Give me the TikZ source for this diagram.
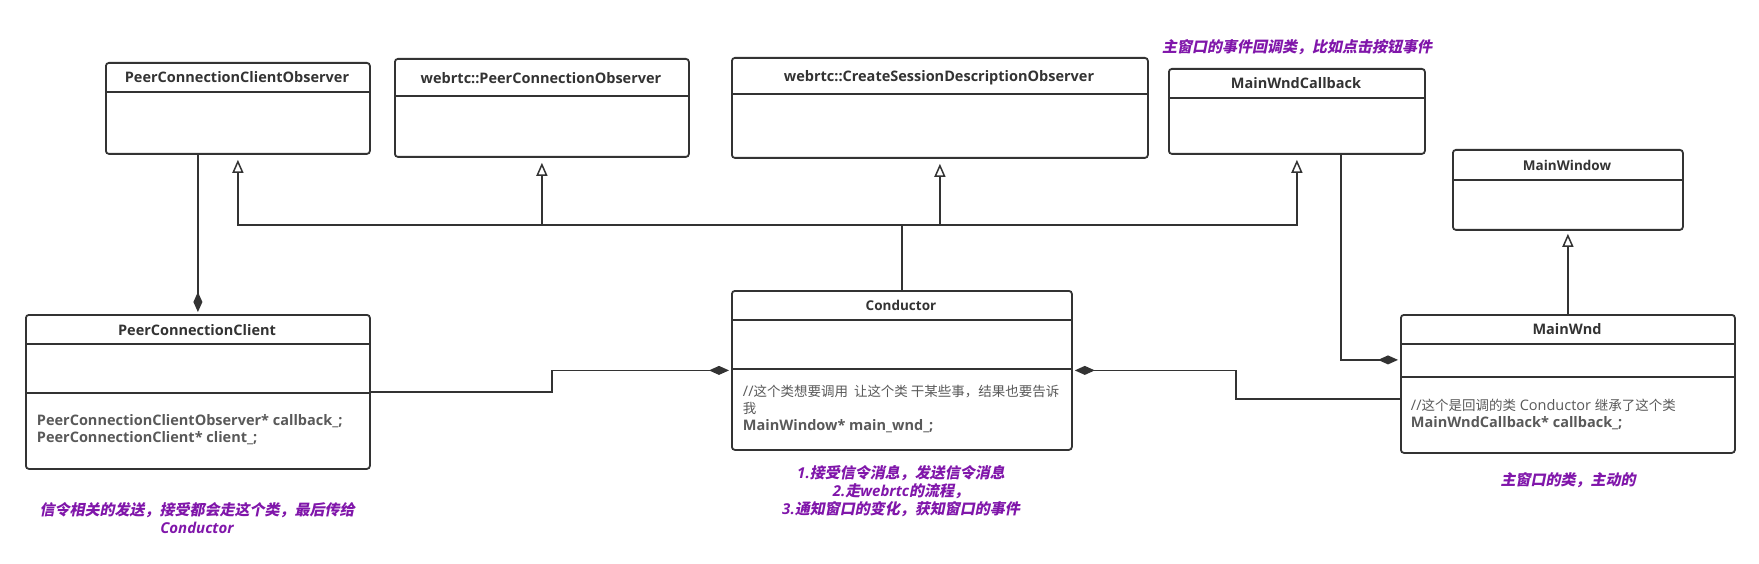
\documentclass[tikz,border=0pt]{standalone}
\usepackage{fontspec}
\setmainfont{Open Sans}
\newfontfamily\cjk{Noto Sans CJK SC}[Scale=0.93]
\newfontfamily\cjknote{Noto Sans CJK SC}[FakeSlant=0.2]
\usetikzlibrary{arrows.meta}
\definecolor{umlline}{RGB}{51,51,51}
\definecolor{umltext}{RGB}{51,51,51}
\definecolor{membertext}{RGB}{89,89,89}
\definecolor{notepurple}{RGB}{128,22,170}

\begin{document}
\begin{tikzpicture}[x=1pt,y=-1pt,
  classbox/.style={draw=umlline, line width=1.8pt, rounded corners=3pt, inner sep=0pt, anchor=north west},
  sepline/.style={draw=umlline, line width=1.8pt},
  classtitle/.style={font=\bfseries\fontsize{14.5}{17}\selectfont, text=umltext, inner sep=0.75pt},
  smalltitle/.style={classtitle, font=\bfseries\fontsize{13.5}{16}\selectfont},
  member/.style={font=\fontsize{14.5}{17}\selectfont, text=membertext, anchor=west, align=left, inner sep=0.75pt},
  note/.style={font=\bfseries\itshape\fontsize{15}{18}\selectfont, text=notepurple, align=center, inner sep=0.75pt},
  inherit/.style={draw=umlline, line width=1.5pt, -{Triangle[open, length=13pt, width=11pt]}, shorten >=5pt},
  compose/.style={draw=umlline, line width=1.5pt, -{Diamond[length=20pt, width=9pt]}, shorten >=2pt}
]
\useasboundingbox (0,0) rectangle (1759,564);

%Shape: Class [id:pcco]
\node[classbox, minimum width=264pt, minimum height=91pt] (pcco) at (105,62) {};
\draw[sepline] (pcco.west |- 0,92) -- (pcco.east |- 0,92);
%Shape: Class [id:pco]
\node[classbox, minimum width=294pt, minimum height=98pt] (pco) at (394,58) {};
\draw[sepline] (pco.west |- 0,96) -- (pco.east |- 0,96);
%Shape: Class [id:csdo]
\node[classbox, minimum width=416pt, minimum height=100pt] (csdo) at (731,57) {};
\draw[sepline] (csdo.west |- 0,94) -- (csdo.east |- 0,94);
%Shape: Class [id:mwcb]
\node[classbox, minimum width=256pt, minimum height=85pt] (mwcb) at (1168,68) {};
\draw[sepline] (mwcb.west |- 0,98) -- (mwcb.east |- 0,98);
%Shape: Class [id:mwin]
\node[classbox, minimum width=230pt, minimum height=80pt] (mwin) at (1452,149) {};
\draw[sepline] (mwin.west |- 0,180) -- (mwin.east |- 0,180);
%Shape: Class [id:pcc]
\node[classbox, minimum width=344pt, minimum height=154pt] (pcc) at (25,314) {};
\draw[sepline] (pcc.west |- 0,344) -- (pcc.east |- 0,344);
\draw[sepline] (pcc.west |- 0,393) -- (pcc.east |- 0,393);
%Shape: Class [id:cond]
\node[classbox, minimum width=340pt, minimum height=159pt] (cond) at (731,290) {};
\draw[sepline] (cond.west |- 0,320) -- (cond.east |- 0,320);
\draw[sepline] (cond.west |- 0,369) -- (cond.east |- 0,369);
%Shape: Class [id:mwnd]
\node[classbox, minimum width=334pt, minimum height=138pt] (mwnd) at (1400,314) {};
\draw[sepline] (mwnd.west |- 0,344) -- (mwnd.east |- 0,344);
\draw[sepline] (mwnd.west |- 0,377) -- (mwnd.east |- 0,377);

% Text Node
\node[classtitle] (pcco-t) at (237,77) {PeerConnectionClientObserver};
% Text Node
\node[classtitle] (pco-t) at (541,78) {webrtc::PeerConnectionObserver};
% Text Node
\node[classtitle] (csdo-t) at (939,78) {webrtc::CreateSessionDescriptionObserver};
% Text Node
\node[classtitle] (mwcb-t) at (1296,83) {MainWndCallback};
% Text Node
\node[smalltitle] (mwin-t) at (1567,165) {MainWindow};
% Text Node
\node[classtitle] (pcc-t) at (197,330) {PeerConnectionClient};
% Text Node
\node[smalltitle] (cond-t) at (901,305) {Conductor};
% Text Node
\node[classtitle] (mwnd-t) at (1567,329) {MainWnd};

% Text Node
\node[member] (pcc-m) at (36,429.5) {\textbf{PeerConnectionClientObserver* callback\_;}\\\textbf{PeerConnectionClient* client\_;}};
% Text Node
\node[member] (cond-m) at (742,409) {//{\cjk 这个类想要调用\ \ 让这个类 干某些事，结果也要告诉}\\{\cjk 我}\\\textbf{MainWindow* main\_wnd\_;}};
% Text Node
\node[member] (mwnd-m) at (1410,414) {//{\cjk 这个是回调的类} Conductor {\cjk 继承了这个类}\\\textbf{MainWndCallback* callback\_;}};

% Text Node
\node[note] (mwcb-n) at (1297,47) {{\cjknote 主窗口的事件回调类，比如点击按钮事件}};
% Text Node
\node[note] (pcc-n) at (197,518) {{\cjknote 信令相关的发送，接受都会走这个类，最后传给}\\Conductor};
% Text Node
\node[note] (cond-n) at (901,491) {1.{\cjknote 接受信令消息，发送信令消息}\\2.{\cjknote 走}webrtc{\cjknote 的流程，}\\3.{\cjknote 通知窗口的变化，获知窗口的事件}};
% Text Node
\node[note] (mwnd-n) at (1568,480) {{\cjknote 主窗口的类，主动的}};

%Connectors
\coordinate (bus) at (901,225);
\draw[inherit] (cond.north) -- (cond.north |- bus) -| (pcco.south);
\draw[inherit] (cond.north) -- (cond.north |- bus) -| (pco.south);
\draw[inherit] (cond.north) -- (cond.north |- bus) -| (csdo.south);
\draw[inherit] (cond.north) -- (cond.north |- bus) -| (mwcb.south);
\draw[inherit, shorten >=3pt] (mwnd.north) -- (mwin.south);
\draw[compose] (pcc.north |- pcco.south) -- (pcc.north);
\draw[compose] (pcc.east) -- ++(181,0) |- (cond.west);
\draw[compose] ([yshift=-15pt]mwnd.west) -- ++(-164,0) |- (cond.east);
\draw[compose] ([xshift=44pt]mwcb.south) |- ([yshift=24pt]mwnd.west);

\end{tikzpicture}
\end{document}
